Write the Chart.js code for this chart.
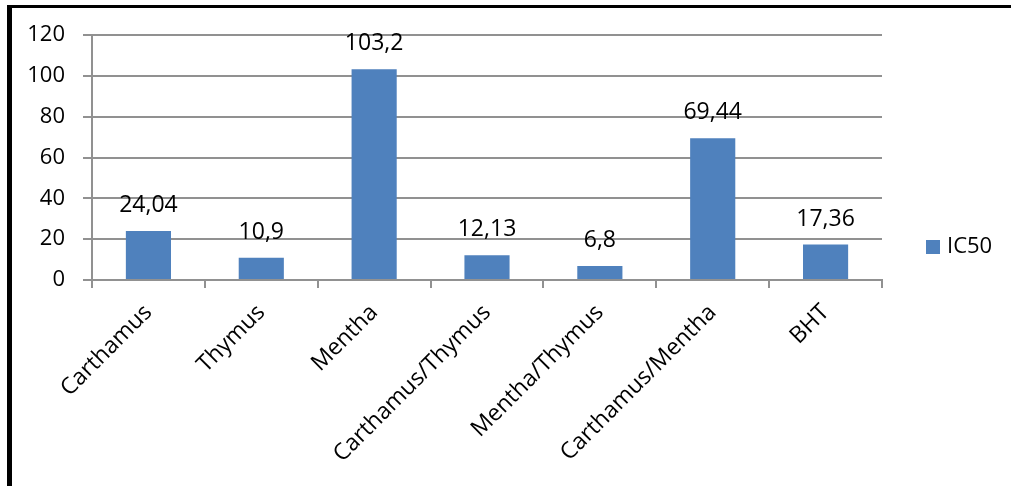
<!DOCTYPE html>
<html>
<head>
<meta charset="utf-8">
<script src="https://cdn.jsdelivr.net/npm/chart.js@4/dist/chart.umd.min.js"></script>
<style>
  html, body { margin: 0; padding: 0; background: #fff; overflow: hidden; }
  #wrap { position: relative; width: 1011px; height: 486px; }
  #chart { position: absolute; left: 0; top: 0; }
  #frame {
    position: absolute; left: 7px; top: 5px; width: 1100px; height: 600px;
    border-left: 5px solid #000; border-top: 3px solid #000;
    pointer-events: none;
  }
</style>
</head>
<body>
<div id="wrap">
  <canvas id="chart" width="1011" height="486"></canvas>
  <div id="frame"></div>
</div>
<script>
// Extracts and their IC50 values
const categories = ['Carthamus', 'Thymus', 'Mentha', 'Carthamus/Thymus', 'Mentha/Thymus', 'Carthamus/Mentha', 'BHT'];
const ic50Values = [24.04, 10.9, 103.2, 12.13, 6.8, 69.44, 17.36];
const yTicks = [0, 20, 40, 60, 80, 100, 120];
const seriesName = 'IC50';

const FONT = '"Open Sans", "Liberation Sans", sans-serif';
const BAR_COLOR = '#4F81BD';
const GRID_COLOR = '#919191';

// Value labels above each bar (decimal comma)
const valueLabels = {
  id: 'valueLabels',
  afterDatasetsDraw(chart) {
    const ctx = chart.ctx;
    const meta = chart.getDatasetMeta(0);
    const data = chart.data.datasets[0].data;
    ctx.save();
    ctx.font = '23px ' + FONT;
    ctx.fillStyle = '#000';
    ctx.textAlign = 'center';
    ctx.textBaseline = 'alphabetic';
    meta.data.forEach((bar, i) => {
      const txt = String(data[i]).replace('.', ',');
      ctx.fillText(txt, bar.x, bar.y - 19);
    });
    ctx.restore();
  }
};

// Legend entry on the right side
const sideLegend = {
  id: 'sideLegend',
  afterDraw(chart) {
    const ctx = chart.ctx;
    const ds = chart.data.datasets[0];
    const cx = chart.chartArea.right + 44;
    const cy = 247;
    ctx.save();
    ctx.fillStyle = ds.backgroundColor;
    ctx.fillRect(cx, cy - 7, 14, 14);
    ctx.font = '22px ' + FONT;
    ctx.fillStyle = '#000';
    ctx.textAlign = 'left';
    ctx.textBaseline = 'middle';
    ctx.fillText(ds.label, cx + 21, cy);
    ctx.restore();
  }
};

new Chart(document.getElementById('chart'), {
  type: 'bar',
  data: {
    labels: categories,
    datasets: [{
      label: seriesName,
      data: ic50Values,
      backgroundColor: BAR_COLOR,
      borderWidth: 0,
      categoryPercentage: 1,
      barPercentage: 0.4
    }]
  },
  options: {
    responsive: false,
    devicePixelRatio: 1,
    animation: false,
    layout: { padding: { top: 35, right: 129, left: 0, bottom: 0 } },
    plugins: {
      legend: { display: false },
      tooltip: { enabled: false }
    },
    scales: {
      x: {
        grid: {
          display: true,
          drawOnChartArea: false,
          drawTicks: true,
          tickLength: 8,
          color: GRID_COLOR,
          lineWidth: 2
        },
        border: { display: true, color: GRID_COLOR, width: 2 },
        ticks: {
          autoSkip: false,
          minRotation: 45,
          maxRotation: 45,
          padding: 11,
          color: '#000',
          font: { family: FONT, size: 23 }
        },
        afterFit(scale) { scale.height = 206; }
      },
      y: {
        min: 0,
        max: 120,
        afterBuildTicks(scale) { scale.ticks = yTicks.map(v => ({ value: v })); },
        grid: {
          color: GRID_COLOR,
          lineWidth: 2,
          drawTicks: true,
          tickLength: 9
        },
        border: { display: true, color: GRID_COLOR, width: 2 },
        ticks: {
          padding: 18,
          color: '#000',
          font: { family: FONT, size: 22 }
        },
        afterFit(scale) { scale.width = 92; }
      }
    }
  },
  plugins: [valueLabels, sideLegend]
});
</script>
</body>
</html>
